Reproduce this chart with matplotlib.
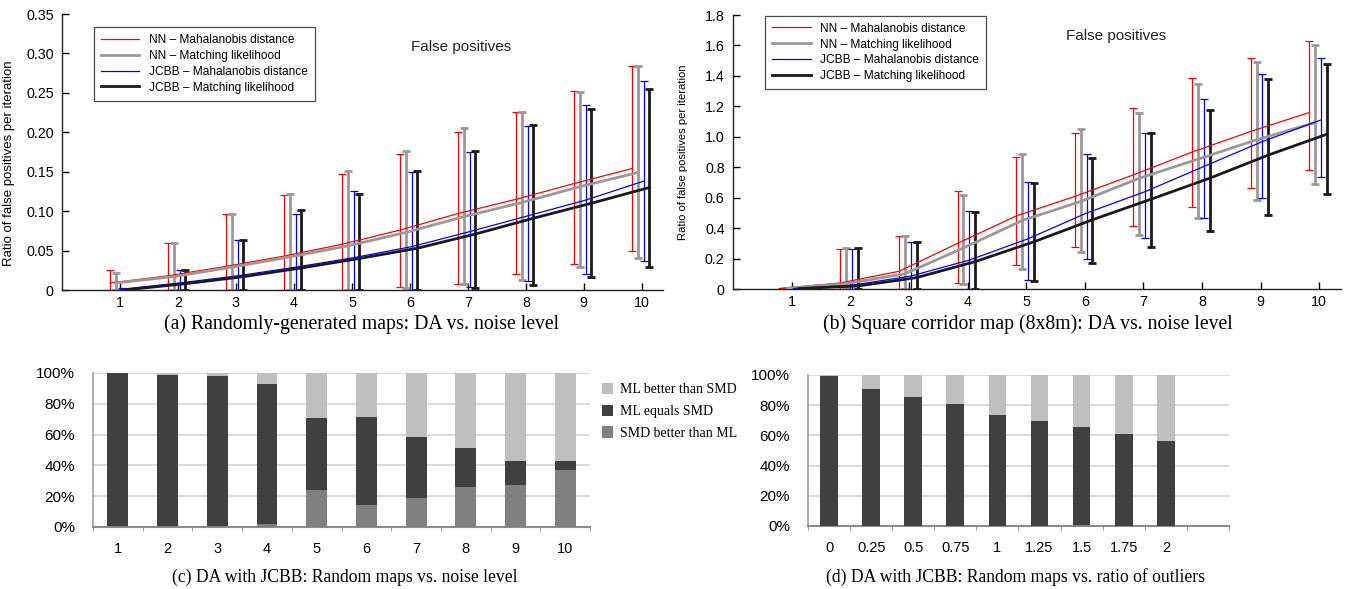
import numpy as np
import matplotlib
matplotlib.use("Agg")
import matplotlib.pyplot as plt

# ---------------- data ----------------
noise = [1, 2, 3, 4, 5, 6, 7, 8, 9, 10]
series_names = ["NN – Mahalanobis distance", "NN – Matching likelihood",
                "JCBB – Mahalanobis distance", "JCBB – Matching likelihood"]

# (a) Randomly-generated maps
a_nn_md_mean = [0.009, 0.018, 0.030, 0.043, 0.058, 0.076, 0.097, 0.115, 0.135, 0.154]
a_nn_md_low  = [0.0, 0.0, 0.0, 0.0, 0.0, 0.004, 0.008, 0.020, 0.033, 0.049]
a_nn_md_high = [0.025, 0.059, 0.097, 0.121, 0.147, 0.172, 0.201, 0.226, 0.252, 0.284]

a_nn_ml_mean = [0.009, 0.017, 0.029, 0.042, 0.056, 0.073, 0.093, 0.111, 0.131, 0.149]
a_nn_ml_low  = [0.0, 0.0, 0.0, 0.0, 0.0, 0.003, 0.008, 0.013, 0.029, 0.041]
a_nn_ml_high = [0.022, 0.060, 0.097, 0.122, 0.151, 0.176, 0.205, 0.226, 0.251, 0.284]

a_jc_md_mean = [0.001, 0.009, 0.018, 0.029, 0.041, 0.055, 0.074, 0.094, 0.114, 0.138]
a_jc_md_low  = [0.0, 0.0, 0.0, 0.0, 0.0, 0.0, 0.004, 0.011, 0.020, 0.037]
a_jc_md_high = [0.002, 0.025, 0.063, 0.096, 0.126, 0.150, 0.175, 0.208, 0.235, 0.265]

a_jc_ml_mean = [0.0005, 0.008, 0.017, 0.028, 0.040, 0.053, 0.071, 0.091, 0.110, 0.130]
a_jc_ml_low  = [0.0, 0.0, 0.0, 0.0, 0.0, 0.0, 0.003, 0.007, 0.016, 0.029]
a_jc_ml_high = [0.001, 0.026, 0.064, 0.101, 0.122, 0.151, 0.176, 0.209, 0.230, 0.255]

# (b) Square corridor map
b_nn_md_mean = [0.005, 0.040, 0.116, 0.300, 0.480, 0.608, 0.750, 0.900, 1.035, 1.160]
b_nn_md_low  = [0.0, 0.0, 0.0, 0.039, 0.155, 0.273, 0.411, 0.542, 0.665, 0.781]
b_nn_md_high = [0.010, 0.262, 0.350, 0.645, 0.866, 1.028, 1.192, 1.389, 1.518, 1.632]

b_nn_ml_mean = [0.005, 0.035, 0.100, 0.270, 0.450, 0.575, 0.728, 0.853, 0.980, 1.094]
b_nn_ml_low  = [0.0, 0.0, 0.0, 0.033, 0.131, 0.243, 0.354, 0.466, 0.588, 0.691]
b_nn_ml_high = [0.010, 0.267, 0.350, 0.615, 0.886, 1.050, 1.159, 1.347, 1.489, 1.605]

b_jc_md_mean = [0.003, 0.025, 0.085, 0.190, 0.330, 0.499, 0.640, 0.805, 0.969, 1.111]
b_jc_md_low  = [0.0, 0.0, 0.0, 0.0, 0.061, 0.195, 0.332, 0.468, 0.601, 0.739]
b_jc_md_high = [0.006, 0.262, 0.306, 0.510, 0.704, 0.888, 1.028, 1.251, 1.415, 1.520]

b_jc_ml_mean = [0.003, 0.020, 0.075, 0.180, 0.310, 0.455, 0.590, 0.728, 0.880, 1.017]
b_jc_ml_low  = [0.0, 0.0, 0.0, 0.0, 0.050, 0.168, 0.273, 0.383, 0.486, 0.626]
b_jc_ml_high = [0.006, 0.267, 0.311, 0.505, 0.698, 0.860, 1.028, 1.177, 1.380, 1.478]

# (c) DA with JCBB: noise level (percent)
c_labels = ["1", "2", "3", "4", "5", "6", "7", "8", "9", "10"]
c_smd_better = [0.5, 0.5, 0.5, 2.2, 24.3, 14.3, 18.5, 25.7, 27.2, 37.2]
c_equal      = [99.5, 98.4, 97.3, 90.8, 46.4, 57.0, 39.8, 25.4, 15.6, 5.6]
c_ml_better  = [0.0, 1.1, 2.2, 7.0, 29.3, 28.7, 41.7, 48.9, 57.2, 57.2]

# (d) DA with JCBB: ratio of outliers (percent)
d_labels = ["0", "0.25", "0.5", "0.75", "1", "1.25", "1.5", "1.75", "2", ""]
d_smd_better = [0.0, 0.0, 0.0, 0.0, 0.0, 0.0, 0.8, 0.0, 0.0, 0.0]
d_equal      = [99.6, 90.7, 85.4, 81.0, 73.3, 69.5, 64.8, 60.9, 56.5, 0.0]
d_ml_better  = [0.4, 9.3, 14.6, 19.0, 26.7, 30.5, 34.4, 39.1, 43.5, 0.0]

stack_names = ["ML better than SMD", "ML equals SMD", "SMD better than ML"]

# ---------------- style ----------------
SANS = "Liberation Sans"
SERIF = "Liberation Serif"
plt.rcParams["font.family"] = [SANS, "DejaVu Sans"]

fig = plt.figure(figsize=(13.48, 5.89), dpi=100)

line_styles = [
    dict(color="#ff0000", lw=0.9),
    dict(color="#999999", lw=2.0),
    dict(color="#0000ff", lw=0.9),
    dict(color="#1a1a1a", lw=2.0),
]
offsets = [-0.17, -0.07, 0.03, 0.13]


def fp_panel(rect, data, ylim, yticks, yticklabels, legend_anchor, text_pos,
             ylabel_size, ylabel_coords):
    ax = fig.add_axes(rect)
    x = np.array(noise, dtype=float)
    handles = []
    for (mean, low, high), st, off, name in zip(data, line_styles, offsets, series_names):
        mean = np.array(mean); low = np.array(low); high = np.array(high)
        ax.errorbar(x + off, mean, yerr=[mean - low, high - mean], fmt="none",
                    ecolor=st["color"], elinewidth=st["lw"], capsize=2.6,
                    capthick=st["lw"], zorder=2)
        h, = ax.plot(x + off, mean, color=st["color"], lw=st["lw"], zorder=3, label=name)
        handles.append(h)
    ax.set_xlim(0, 10.37)
    ax.set_ylim(*ylim)
    ax.set_xticks(noise)
    ax.set_yticks(yticks)
    ax.set_yticklabels(yticklabels)
    ax.tick_params(direction="in", length=5, labelsize=10.3, width=1, pad=4)
    ax.tick_params(axis="y", pad=6)
    for s in ["top", "right"]:
        ax.spines[s].set_visible(False)
    for s in ["left", "bottom"]:
        ax.spines[s].set_color("#222222")
        ax.spines[s].set_linewidth(1)
    ax.set_ylabel("Ratio of false positives per iteration", fontsize=ylabel_size)
    ax.yaxis.set_label_coords(*ylabel_coords)
    leg = ax.legend(handles=handles, loc="upper left", bbox_to_anchor=legend_anchor,
                    fontsize=8.6, frameon=True, fancybox=False, edgecolor="#222222",
                    handlelength=3.2, handletextpad=0.8, borderpad=0.6,
                    labelspacing=0.32)
    leg.get_frame().set_linewidth(0.9)
    ax.text(text_pos[0], text_pos[1], "False positives", transform=ax.transAxes,
            ha="center", va="center", fontsize=11, color="#222222")
    return ax


axA = fp_panel([0.046, 0.5076, 0.446, 0.4686],
               [(a_nn_md_mean, a_nn_md_low, a_nn_md_high),
                (a_nn_ml_mean, a_nn_ml_low, a_nn_ml_high),
                (a_jc_md_mean, a_jc_md_low, a_jc_md_high),
                (a_jc_ml_mean, a_jc_ml_low, a_jc_ml_high)],
               (0, 0.35), [0, 0.05, 0.10, 0.15, 0.20, 0.25, 0.30, 0.35],
               ["0", "0.05", "0.10", "0.15", "0.20", "0.25", "0.30", "0.35"],
               (0.043, 0.975), (0.664, 0.88), 9.5, (-0.078, 0.46))

axB = fp_panel([0.5438, 0.5093, 0.451, 0.4652],
               [(b_nn_md_mean, b_nn_md_low, b_nn_md_high),
                (b_nn_ml_mean, b_nn_ml_low, b_nn_ml_high),
                (b_jc_md_mean, b_jc_md_low, b_jc_md_high),
                (b_jc_ml_mean, b_jc_ml_low, b_jc_ml_high)],
               (0, 1.8), [0, 0.2, 0.4, 0.6, 0.8, 1.0, 1.2, 1.4, 1.6, 1.8],
               ["0", "0.2", "0.4", "0.6", "0.8", "1.0", "1.2", "1.4", "1.6", "1.8"],
               (0.043, 1.02), (0.63, 0.923), 8.1, (-0.074, 0.5))

stack_colors = ["#bfbfbf", "#404040", "#808080"]


def stack_panel(rect, labels, smd, eq, ml, legend=False):
    ax = fig.add_axes(rect)
    x = np.arange(len(labels))
    smd = np.array(smd); eq = np.array(eq); ml = np.array(ml)
    w = 0.42
    ax.bar(x, smd, width=w, color=stack_colors[2], zorder=3, label=stack_names[2])
    ax.bar(x, eq, width=w, bottom=smd, color=stack_colors[1], zorder=3, label=stack_names[1])
    ax.bar(x, ml, width=w, bottom=smd + eq, color=stack_colors[0], zorder=3, label=stack_names[0])
    ax.set_xlim(-0.5, len(labels) - 0.5)
    ax.set_ylim(0, 100)
    ax.set_yticks([0, 20, 40, 60, 80, 100])
    ax.set_yticklabels(["0%", "20%", "40%", "60%", "80%", "100%"])
    ax.yaxis.grid(True, color="#d4d4d4", lw=1.2, zorder=0)
    ax.set_axisbelow(True)
    ax.set_xticks(x)
    ax.set_xticklabels(labels)
    ax.set_xticks(np.arange(len(labels) + 1) - 0.5, minor=True)
    ax.tick_params(axis="x", which="major", length=0, pad=11, labelsize=10.5)
    ax.tick_params(axis="x", which="minor", length=3, color="#888888", direction="out")
    ax.tick_params(axis="y", length=0, pad=13, labelsize=11)
    for s in ["top", "right"]:
        ax.spines[s].set_visible(False)
    ax.spines["left"].set_color("#a0a0a0")
    ax.spines["left"].set_linewidth(1.2)
    ax.spines["bottom"].set_color("#8c8c8c")
    ax.spines["bottom"].set_linewidth(1.5)
    if legend:
        h, l = ax.get_legend_handles_labels()
        ax.legend(h[::-1], l[::-1], loc="upper left", bbox_to_anchor=(1.012, 0.97),
                  frameon=False, prop={"family": SERIF, "size": 10},
                  handlelength=0.85, handleheight=0.85, handletextpad=0.5,
                  labelspacing=0.6, borderaxespad=0)
    return ax


axC = stack_panel([0.069, 0.1053, 0.3687, 0.2615], c_labels,
                  c_smd_better, c_equal, c_ml_better, legend=True)
axD = stack_panel([0.5994, 0.107, 0.3123, 0.2564], d_labels,
                  d_smd_better, d_equal, d_ml_better)

cap_top = dict(ha="center", va="center", fontsize=14.2, family=SERIF)
cap_bot = dict(ha="center", va="center", fontsize=12.7, family=SERIF)
fig.text(362 / 1348, 1 - 324 / 589, "(a) Randomly-generated maps: DA vs. noise level", **cap_top)
fig.text(1028 / 1348, 1 - 324 / 589, "(b) Square corridor map (8x8m): DA vs. noise level", **cap_top)
fig.text(345 / 1348, 1 - 577 / 589, "(c) DA with JCBB: Random maps vs. noise level", **cap_bot)
fig.text(1015 / 1348, 1 - 577 / 589, "(d) DA with JCBB: Random maps vs. ratio of outliers", **cap_bot)

fig.savefig("out.png", dpi=100)
